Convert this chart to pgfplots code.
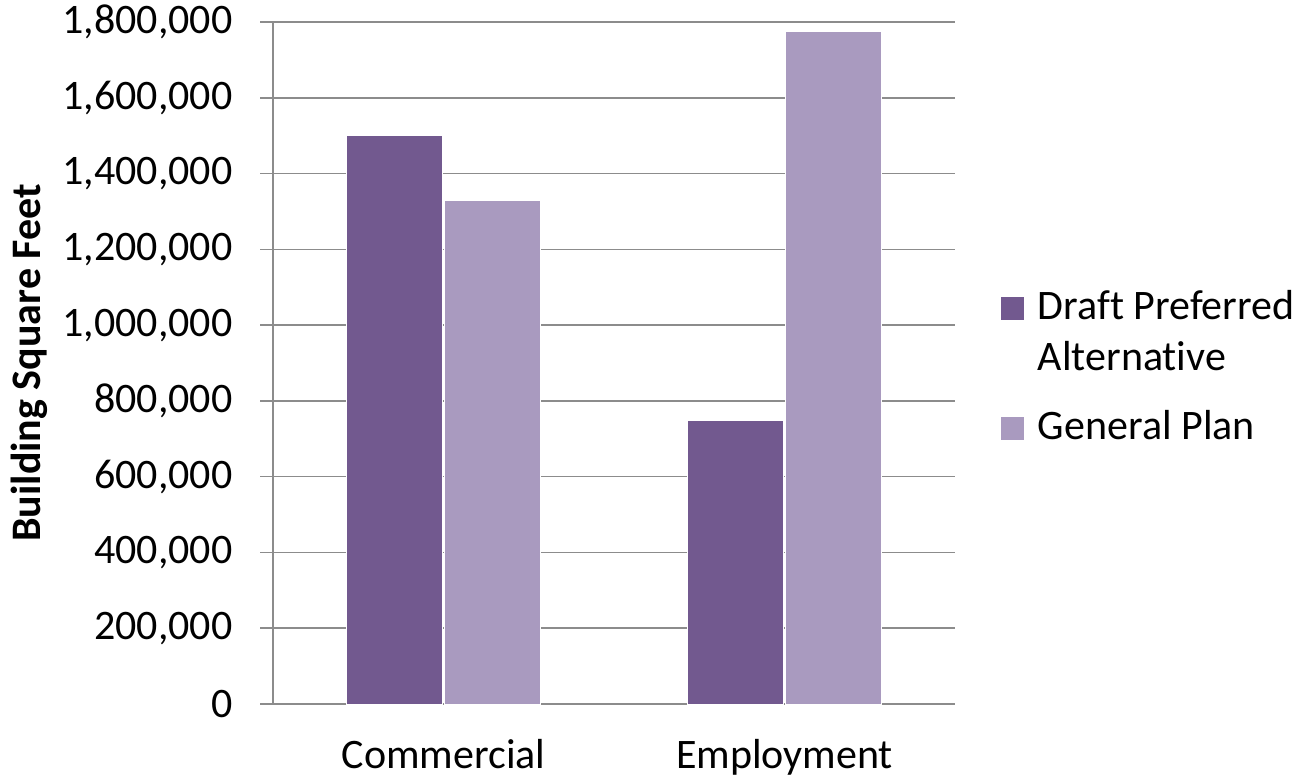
\documentclass[border=0pt]{standalone}
\usepackage{pgfplots}
\pgfplotsset{compat=1.18}
\usepackage{fontspec}
\setmainfont{Carlito}[Ligatures=CommonOff]
\definecolor{dpa}{RGB}{114,89,143}
\definecolor{gpc}{RGB}{169,154,191}
\definecolor{gridc}{RGB}{140,140,140}
\begin{document}
\begin{tikzpicture}[x=1pt,y=1pt]
\path[use as bounding box] (0,0) rectangle (1305,779);
\begin{axis}[
  at={(273pt,75pt)}, anchor=south west, scale only axis,
  width=682pt, height=682pt,
  xmin=-0.5, xmax=1.5, ymin=0, ymax=1800000,
  ybar=2pt, bar width=96pt,
  axis x line=bottom, axis y line=left,
  axis line style={-, gridc, line width=1.5pt},
  ymajorgrids, grid style={gridc, line width=1.5pt},
  xtick={0,1}, xticklabels={Commercial,Employment},
  x tick style={draw=none},
  extra x ticks={-0.5,0.5,1.5}, extra x tick labels={},
  extra x tick style={grid=none, tick style={draw=gridc, line width=1.5pt}, major tick length=12pt},
  ytick={0,200000,...,1800000},
  y tick style={gridc, line width=1.5pt},
  tick align=outside, major tick length=13pt,
  scaled y ticks=false,
  /pgf/number format/.cd, fixed, 1000 sep={,}, assume math mode=true,
  /pgfplots/.cd,
  tick label style={font=\fontsize{42}{50}\selectfont, text=black},
  yticklabel style={xshift=-24pt},
  xticklabel style={yshift=-19pt},
  ylabel={\bfseries Building Square Feet},
  every axis y label/.style={at={(axis description cs:-0.357,0.5)}, rotate=90, anchor=center, font=\fontsize{42}{50}\selectfont},
  legend style={at={(1.0627,0.496)}, anchor=west, draw=none, fill=none,
    font=\fontsize{42}{51}\selectfont, row sep=34pt,
    cells={anchor=base west, align=left},
    /tikz/every odd column/.style={column sep=12pt}},
]
\addplot[fill=dpa, draw=white, line width=1pt,
  legend image code/.code={\fill[dpa] (0pt,51pt) rectangle (22pt,73pt);}]
  coordinates {(0,1500000) (1,748000)};
\addplot[fill=gpc, draw=white, line width=1pt,
  legend image code/.code={\fill[gpc] (0pt,0pt) rectangle (22pt,22pt);}]
  coordinates {(0,1328000) (1,1776000)};
\legend{Draft Preferred\\Alternative, General Plan}
\end{axis}
\end{tikzpicture}
\end{document}
